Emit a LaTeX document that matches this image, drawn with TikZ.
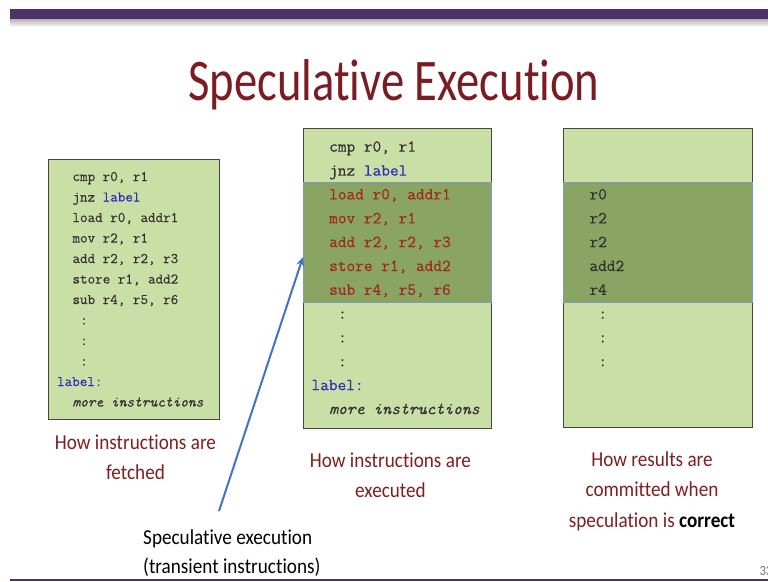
\documentclass[tikz,border=0pt]{standalone}
\usepackage{fontspec}
\setmainfont{Carlito}[Ligatures=NoCommon]
\setmonofont{Latin Modern Mono}[FakeBold=0.4]
\newfontfamily\titlefont{Carlito}[Ligatures=NoCommon, FakeStretch=0.79]
\newfontfamily\capfont{Carlito}[Ligatures=NoCommon, FakeStretch=0.9]
\usetikzlibrary{arrows.meta}

\definecolor{slidepurple}{RGB}{75,50,105}
\definecolor{titlered}{RGB}{122,28,34}
\definecolor{capred}{RGB}{128,30,32}
\definecolor{boxlight}{RGB}{202,223,166}
\definecolor{boxdark}{RGB}{138,164,99}
\definecolor{bandline}{RGB}{125,155,205}
\definecolor{boxedge}{RGB}{70,70,70}
\definecolor{codegray}{RGB}{50,50,50}
\definecolor{codered}{RGB}{160,42,28}
\definecolor{codeblue}{RGB}{45,45,185}
\definecolor{arrowblue}{RGB}{68,114,196}

\tikzset{
  codebox/.style={draw=boxedge, line width=0.9pt, fill=boxlight},
  band/.style={draw=bandline, line width=0.8pt, fill=boxdark},
  smallcode/.style={anchor=base west, inner sep=0pt, text=codegray,
    font=\ttfamily\fontsize{14.67}{17}\selectfont},
  bigcode/.style={anchor=base west, inner sep=0pt, text=codegray,
    font=\ttfamily\fontsize{16.86}{19}\selectfont},
  caption/.style={anchor=base, inner sep=0pt, text=capred,
    font=\capfont\fontsize{21.3}{25}\selectfont},
  note/.style={anchor=base west, inner sep=0pt, text=black,
    font=\capfont\fontsize{21.3}{25}\selectfont},
}

\begin{document}
\begin{tikzpicture}[x=1pt, y=-1pt]
  \useasboundingbox (0,0) rectangle (768,581);
  \fill[white] (0,0) rectangle (768,581);

  % header bar with its soft shadow, and the footer rule
  \shade[top color=black!30, bottom color=white] (10,19) rectangle (768,27);
  \fill[slidepurple] (10,9) rectangle (768,19);
  \fill[slidepurple] (10,579) rectangle (768,581);

  \node[anchor=base, inner sep=0pt, text=titlered,
        font=\titlefont\fontsize{59}{62}\selectfont] (title) at (394,100) {Speculative Execution};

  % ---------- fetched order ----------
  \draw[codebox] (48.3,159.3) rectangle (219,419);
  \node[smallcode] (f1)  at (72.3,181.0) {cmp r0, r1};
  \node[smallcode] (f2)  at (72.3,201.5) {jnz \textcolor{codeblue}{label}};
  \node[smallcode] (f3)  at (72.3,222.0) {load r0, addr1};
  \node[smallcode] (f4)  at (72.3,242.5) {mov r2, r1};
  \node[smallcode] (f5)  at (72.3,263.0) {add r2, r2, r3};
  \node[smallcode] (f6)  at (72.3,283.5) {store r1, add2};
  \node[smallcode] (f7)  at (72.3,304.0) {sub r4, r5, r6};
  \node[smallcode] (f8)  at (80.0,324.5) {:};
  \node[smallcode] (f9)  at (80.0,345.0) {:};
  \node[smallcode] (f10) at (80.0,365.5) {:};
  \node[smallcode, text=codeblue] (f11) at (56.9,386.0) {label:};
  \node[smallcode] (f12) at (72.3,406.5) {\itshape more instructions};

  % ---------- executed order ----------
  \draw[codebox] (303.3,128.3) rectangle (491.7,428);
  \draw[band] (303.3,182) rectangle (491.7,302.5);
  \node[bigcode] (e1)  at (329,151.7) {cmp r0, r1};
  \node[bigcode] (e2)  at (329,175.6) {jnz \textcolor{codeblue}{label}};
  \node[bigcode, text=codered] (e3)  at (329,199.4) {load r0, addr1};
  \node[bigcode, text=codered] (e4)  at (329,223.3) {mov r2, r1};
  \node[bigcode, text=codered] (e5)  at (329,247.1) {add r2, r2, r3};
  \node[bigcode, text=codered] (e6)  at (329,271.0) {store r1, add2};
  \node[bigcode, text=codered] (e7)  at (329,294.8) {sub r4, r5, r6};
  \node[bigcode] (e8)  at (337.9,318.7) {:};
  \node[bigcode] (e9)  at (337.9,342.5) {:};
  \node[bigcode] (e10) at (337.9,366.4) {:};
  \node[bigcode, text=codeblue] (e11) at (311.3,390.2) {label:};
  \node[bigcode] (e12) at (329,414.1) {\itshape more instructions};

  % ---------- committed results ----------
  \draw[codebox] (563.3,128) rectangle (752.3,427);
  \draw[band] (563.3,182) rectangle (752.3,302);
  \node[bigcode] (c1) at (589.3,199.4) {r0};
  \node[bigcode] (c2) at (589.3,223.3) {r2};
  \node[bigcode] (c3) at (589.3,247.1) {r2};
  \node[bigcode] (c4) at (589.3,271.0) {add2};
  \node[bigcode] (c5) at (589.3,294.8) {r4};
  \node[bigcode] (c6) at (598.2,318.7) {:};
  \node[bigcode] (c7) at (598.2,342.5) {:};
  \node[bigcode] (c8) at (598.2,366.4) {:};

  % ---------- captions ----------
  \node[caption] (fcap1) at (135.5,449) {How instructions are};
  \node[caption] (fcap2) at (135.5,479.5) {fetched};
  \node[caption] (ecap1) at (390.5,467) {How instructions are};
  \node[caption] (ecap2) at (390.5,497.5) {executed};
  \node[caption] (ccap1) at (652,466) {How results are};
  \node[caption] (ccap2) at (652,496.5) {committed when};
  \node[caption] (ccap3) at (652,527) {speculation is \textcolor{black}{\bfseries correct}};

  \node[note] (spec1) at (143,544) {Speculative execution};
  \node[note] (spec2) at (143,573.5) {(transient instructions)};

  % pointer from the note up to the speculative window
  \coordinate (foot) at (219,511);
  \coordinate (tip) at (303,257);
  \draw[arrowblue, line width=2pt, -{Stealth[length=9pt, width=8pt]}] (foot) -- (tip);

  \node[anchor=base west, inner sep=0pt, text=black!55,
        font=\capfont\fontsize{14}{16}\selectfont] (pageno) at (759.3,575) {33};
\end{tikzpicture}
\end{document}
